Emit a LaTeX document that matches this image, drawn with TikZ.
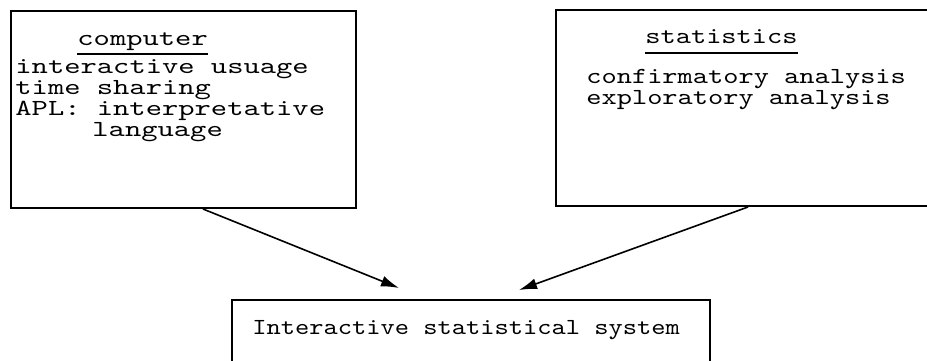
\documentclass[tikz,border=0pt]{standalone}
\usepackage{fontspec}
\newfontfamily\twl{lmmono10-regular}[Extension=.otf,FakeStretch=1.35]
\newfontfamily\twr{lmmono10-regular}[Extension=.otf,FakeStretch=1.26]
\newfontfamily\twb{lmmono10-regular}[Extension=.otf,FakeStretch=1.18]
\usetikzlibrary{arrows.meta}
\begin{document}
\begin{tikzpicture}[x=0.5pt,y=-0.5pt,
  box/.style={line width=0.8pt},
  txt/.style={anchor=base west, inner sep=0pt},
  ltxt/.style={txt, font=\twl\fontsize{11.5}{14}\selectfont},
  rtxt/.style={txt, font=\twr\fontsize{11.5}{14}\selectfont},
  btxt/.style={txt, font=\twb\fontsize{11.5}{14}\selectfont},
  uline/.style={line width=0.7pt},
  arr/.style={line width=0.8pt,-{Latex[length=9pt,width=5.5pt]}}]
\useasboundingbox (0,0) rectangle (927,360);
% boxes
\node[draw, box, minimum width=172.5pt, minimum height=98.5pt, inner sep=0pt] (L) at (183.5,109.5) {};
\draw[box] (927,10) -- (556,10) -- (556,206) -- (927,206);
\draw[box] (232,362) -- (232,300) -- (710,300) -- (710,362);
% left box text
\node[ltxt] (comp) at (77,45) {computer};
\draw[uline] (comp.base west |- 0,54) -- (comp.base east |- 0,54);
\node[ltxt] (l1) at (15,73) {interactive usuage};
\node[ltxt] (l2) at (15,94) {time sharing};
\node[ltxt] (l3) at (15,115) {APL: interpretative};
\node[ltxt] (l4) at (92,136) {language};
% right box text
\node[rtxt] (stat) at (645,43) {statistics};
\draw[uline] (stat.base west |- 0,53) -- (stat.base east |- 0,53);
\node[rtxt] (r1) at (586,83) {confirmatory analysis};
\node[rtxt] (r2) at (586,104) {exploratory analysis};
% bottom box text
\node[btxt] (b1) at (252,334) {Interactive statistical system};
% arrows
\coordinate (s1) at (203,209);
\coordinate (t1) at (399,288);
\coordinate (s2) at (748,207);
\coordinate (t2) at (519,290);
\draw[arr] (s1) -- (t1);
\draw[arr] (s2) -- (t2);
\end{tikzpicture}
\end{document}
